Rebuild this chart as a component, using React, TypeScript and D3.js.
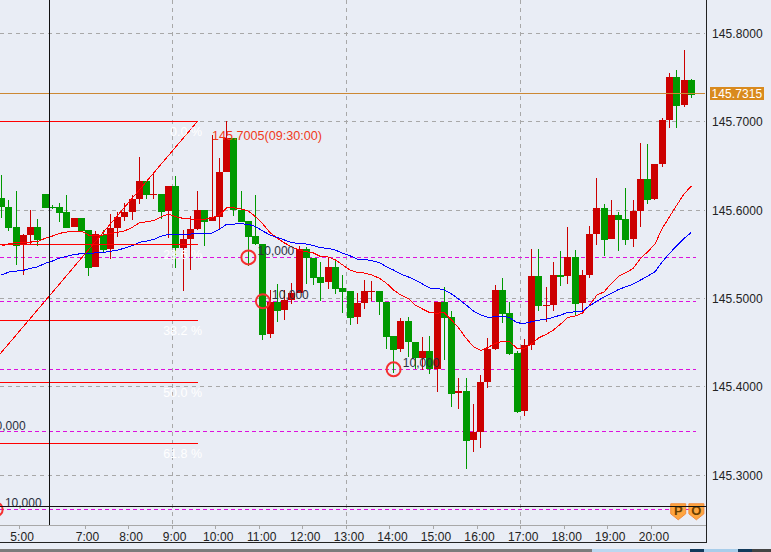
import * as d3 from "d3";
import { useEffect, useRef } from "react";

const width = 771, height = 552;

// 10 minute candles
const opens = [
  145.6132, 145.6031, 145.5807, 145.5612, 145.5717, 145.5807, 145.6181, 145.6034, 145.6031, 145.5977, 145.5807, 145.5909,
  145.5773, 145.5354, 145.5717, 145.5558, 145.5796, 145.5920, 145.5977, 145.6124, 145.6328, 145.6170, 145.6181, 145.5988,
  145.6272, 145.5569, 145.5671, 145.5785, 145.6000, 145.5875, 145.5920, 145.6430, 145.6815, 145.6000, 145.5875, 145.5705,
  145.5615, 145.4595, 145.4958, 145.4867, 145.4981, 145.5060, 145.5558, 145.5456, 145.5241, 145.5185, 145.5354, 145.5117,
  145.5083, 145.4788, 145.4947, 145.5071, 145.5083, 145.4958, 145.4573, 145.4426, 145.4743, 145.4505, 145.4324, 145.4403,
  145.4202, 145.4958, 145.4791, 145.3927, 145.3950, 145.3395, 145.3486, 145.4052, 145.4426, 145.5094, 145.4833, 145.4381,
  145.3724, 145.4471, 145.5252, 145.4913, 145.4924, 145.5264, 145.5252, 145.5468, 145.4947, 145.5264, 145.5728, 145.6022,
  145.5671, 145.5943, 145.5898, 145.5671, 145.5989, 145.6351, 145.6124, 145.6521, 145.7019, 145.7506, 145.7189, 145.7472,
];
const highs = [
  145.6396, 145.6113, 145.6215, 145.5725, 145.6000, 145.5895, 145.6181, 145.6056, 145.6076, 145.6170, 145.5909, 145.5909,
  145.5773, 145.5762, 145.5773, 145.5954, 145.5981, 145.6076, 145.6170, 145.6600, 145.6328, 145.6430, 145.6181, 145.6272,
  145.6385, 145.5773, 145.5928, 145.6215, 145.6000, 145.6849, 145.6589, 145.7008, 145.6815, 145.6215, 145.5875, 145.6170,
  145.5615, 145.5094, 145.5162, 145.5094, 145.5173, 145.5592, 145.5581, 145.5456, 145.5411, 145.5456, 145.5434, 145.5264,
  145.5083, 145.5060, 145.5207, 145.5196, 145.5083, 145.4958, 145.4573, 145.4777, 145.4788, 145.4505, 145.4562, 145.4573,
  145.4958, 145.5128, 145.4856, 145.4097, 145.4097, 145.3803, 145.4131, 145.4550, 145.5151, 145.5230, 145.4958, 145.4403,
  145.4539, 145.5558, 145.5558, 145.5128, 145.5411, 145.5536, 145.5807, 145.5547, 145.5320, 145.5819, 145.6362, 145.6068,
  145.6113, 145.5977, 145.6249, 145.6113, 145.6758, 145.6747, 145.6521, 145.7042, 145.7551, 145.7585, 145.7812, 145.7483,
];
const lows = [
  145.5906, 145.5765, 145.5377, 145.5264, 145.5603, 145.5596, 145.6026, 145.6008, 145.5864, 145.5796, 145.5807, 145.5762,
  145.5252, 145.5354, 145.5527, 145.5445, 145.5691, 145.5875, 145.5887, 145.6068, 145.6124, 145.6124, 145.5898, 145.5683,
  145.5343, 145.5082, 145.5320, 145.5773, 145.5592, 145.5875, 145.5773, 145.6430, 145.5932, 145.5864, 145.5366, 145.5603,
  145.4528, 145.4550, 145.4731, 145.4754, 145.4935, 145.5060, 145.5162, 145.5151, 145.4969, 145.5105, 145.5048, 145.4833,
  145.4697, 145.4709, 145.4879, 145.4969, 145.4811, 145.4426, 145.4154, 145.4392, 145.4335, 145.4199, 145.4188, 145.4143,
  145.3942, 145.4301, 145.3769, 145.3746, 145.3066, 145.3259, 145.3305, 145.3984, 145.4414, 145.4720, 145.4358, 145.3701,
  145.3667, 145.4414, 145.4856, 145.4731, 145.4856, 145.5139, 145.5162, 145.4811, 145.4856, 145.5230, 145.5603, 145.5479,
  145.5671, 145.5535, 145.5603, 145.5581, 145.5807, 145.6068, 145.6113, 145.6487, 145.6928, 145.6928, 145.7166, 145.7268,
];
const closes = [
  145.6026, 145.5792, 145.5596, 145.5717, 145.5807, 145.5660, 145.6026, 145.6026, 145.5966, 145.5796, 145.5909, 145.5762,
  145.5346, 145.5725, 145.5547, 145.5796, 145.5920, 145.5977, 145.6124, 145.6328, 145.6170, 145.6181, 145.5977, 145.6272,
  145.5569, 145.5671, 145.5785, 145.6000, 145.5864, 145.5920, 145.6430, 145.6815, 145.6000, 145.5864, 145.5694, 145.5615,
  145.4584, 145.4958, 145.4856, 145.4981, 145.5060, 145.5558, 145.5456, 145.5230, 145.5173, 145.5354, 145.5105, 145.5071,
  145.4777, 145.4947, 145.5083, 145.5083, 145.4958, 145.4562, 145.4414, 145.4743, 145.4505, 145.4324, 145.4403, 145.4199,
  145.4958, 145.4777, 145.3919, 145.3950, 145.3384, 145.3486, 145.4052, 145.4426, 145.5094, 145.4822, 145.4369, 145.3712,
  145.4471, 145.5252, 145.4913, 145.4924, 145.5264, 145.5241, 145.5468, 145.4935, 145.5264, 145.5728, 145.6022, 145.5660,
  145.5943, 145.5887, 145.5660, 145.5989, 145.6351, 145.6113, 145.6521, 145.7019, 145.7506, 145.7178, 145.7472, 145.7302,
];

const fastMa = [
  145.5592, 145.5618, 145.5634, 145.5634, 145.5637, 145.5645, 145.5679, 145.5705, 145.5736, 145.5751, 145.5759, 145.5762,
  145.5717, 145.5713, 145.5717, 145.5736, 145.5747, 145.5765, 145.5804, 145.5856, 145.5867, 145.5883, 145.5924, 145.5954,
  145.5924, 145.5906, 145.5898, 145.5898, 145.5895, 145.5913, 145.5943, 145.6026, 145.6026, 145.6011, 145.5989, 145.5924,
  145.5841, 145.5743, 145.5679, 145.5626, 145.5581, 145.5547, 145.5527, 145.5513, 145.5471, 145.5468, 145.5434, 145.5377,
  145.5320, 145.5294, 145.5286, 145.5264, 145.5230, 145.5173, 145.5094, 145.5037, 145.5000, 145.4924, 145.4879, 145.4837,
  145.4833, 145.4837, 145.4754, 145.4660, 145.4547, 145.4452, 145.4411, 145.4445, 145.4490, 145.4516, 145.4508, 145.4433,
  145.4433, 145.4482, 145.4554, 145.4592, 145.4641, 145.4709, 145.4785, 145.4800, 145.4833, 145.4924, 145.5037, 145.5074,
  145.5170, 145.5252, 145.5290, 145.5340, 145.5453, 145.5527, 145.5615, 145.5792, 145.5924, 145.6056, 145.6181, 145.6272,
];
const slowMa = [
  145.5264, 145.5298, 145.5309, 145.5317, 145.5340, 145.5358, 145.5396, 145.5422, 145.5456, 145.5476, 145.5498, 145.5505,
  145.5505, 145.5516, 145.5521, 145.5532, 145.5547, 145.5569, 145.5596, 145.5634, 145.5649, 145.5668, 145.5705, 145.5725,
  145.5725, 145.5720, 145.5728, 145.5736, 145.5736, 145.5739, 145.5781, 145.5838, 145.5841, 145.5845, 145.5838, 145.5813,
  145.5762, 145.5717, 145.5691, 145.5660, 145.5630, 145.5623, 145.5615, 145.5596, 145.5573, 145.5566, 145.5547, 145.5509,
  145.5482, 145.5445, 145.5441, 145.5426, 145.5407, 145.5358, 145.5320, 145.5275, 145.5244, 145.5207, 145.5162, 145.5116,
  145.5113, 145.5094, 145.5049, 145.4989, 145.4924, 145.4856, 145.4811, 145.4785, 145.4792, 145.4800, 145.4781, 145.4723,
  145.4717, 145.4735, 145.4754, 145.4762, 145.4785, 145.4811, 145.4841, 145.4848, 145.4856, 145.4916, 145.4969, 145.5018,
  145.5056, 145.5102, 145.5131, 145.5162, 145.5207, 145.5252, 145.5301, 145.5414, 145.5509, 145.5596, 145.5679, 145.5747,
];

const priceTicks = [145.3, 145.4, 145.5, 145.6, 145.7, 145.8];
const timeIndex = [3, 12, 18, 24, 30, 36, 42, 48, 54, 60, 66, 72, 78, 84, 90];
const timeLabels = ["5:00", "7:00", "8:00", "9:00", "10:00", "11:00", "12:00", "13:00", "14:00", "15:00", "16:00", "17:00", "18:00", "19:00", "20:00"];
const gridTimeIndex = [24, 48, 72];

const signalIndex = [-3, -0.8, 34, 36, 54];
const signalPrice = [145.349, 145.261, 145.5464, 145.4966, 145.4196];
const signalLabel = "10,000";

const fibPrices = [145.7005, 145.5611, 145.4751, 145.4049, 145.3358];
const fibLabels = ["0.0 %", "23.6 %", "38.2 %", "50.0 %", "61.8 %"];
const fibEndIndex = 27;
const fibStart = { index: -0.21, price: 145.4369 };

const lastPrice = 145.7315;
const cursorIndex = 6.6;
const cursorPrice = 145.264;
const markers = [{ letter: "P", index: 93.2 }, { letter: "O", index: 95.7 }];

const bg = "#e9edf5";
const upColor = "#cc0000";
const downColor = "#009900";
const fontFamily = "'Liberation Sans', Arial, sans-serif";

const App: React.FC = () => {
    const svgRef = useRef<SVGSVGElement | null>(null);

    useEffect(() => {
        const svg = d3.select(svgRef.current);
        svg.selectAll("*").remove();
        svg.style("font-family", fontFamily).style("font-size", "12px");

        const plotRight = 706, plotBottom = 525, frameBottom = 542;

        const x = d3.scaleLinear().domain([0, 95]).range([1.5, 691.3]);
        const y = d3.scaleLinear().domain([145.3, 145.8]).range([475, 33.4]);
        const barWidth = 7;
        const crisp = (v: number) => Math.floor(v) + 0.5;
        const tickX = (i: number) => x(i) - 3.6;

        svg.append("rect").attr("width", width).attr("height", height).attr("fill", bg);

        const hLine = (py: number, x1: number, x2: number, color: string, dash?: string) =>
            svg.append("line")
                .attr("x1", x1).attr("x2", x2)
                .attr("y1", crisp(py)).attr("y2", crisp(py))
                .attr("stroke", color)
                .attr("stroke-dasharray", dash ?? null)
                .attr("shape-rendering", "crispEdges");

        // grid
        priceTicks.forEach(t => hLine(y(t), 0, plotRight - 1, "#a8a8a8", "4 4"));
        gridTimeIndex.forEach(i => {
            svg.append("line")
                .attr("x1", crisp(tickX(i))).attr("x2", crisp(tickX(i)))
                .attr("y1", 0).attr("y2", plotBottom)
                .attr("stroke", "#a8a8a8")
                .attr("stroke-dasharray", "4 4")
                .attr("shape-rendering", "crispEdges");
        });

        // signal levels
        signalPrice.forEach(p => hLine(y(p), 0, x(95) + 5, "#dd11dd", "4 3"));

        // candles
        const candles = d3.range(opens.length).map(i => ({ i, o: opens[i], h: highs[i], l: lows[i], c: closes[i] }));
        const candle = svg.append("g").attr("shape-rendering", "crispEdges")
            .selectAll("g").data(candles).join("g");
        candle.append("line")
            .attr("x1", d => Math.round(x(d.i) - barWidth / 2) + 3.5)
            .attr("x2", d => Math.round(x(d.i) - barWidth / 2) + 3.5)
            .attr("y1", d => y(d.h))
            .attr("y2", d => y(d.l))
            .attr("stroke", d => d.c >= d.o ? upColor : downColor);
        candle.append("rect")
            .attr("x", d => Math.round(x(d.i) - barWidth / 2))
            .attr("width", barWidth)
            .attr("y", d => Math.round(y(Math.max(d.o, d.c))))
            .attr("height", d => Math.max(1, Math.round(Math.abs(y(d.o) - y(d.c)))))
            .attr("fill", d => d.c >= d.o ? upColor : downColor);

        // moving averages
        const maLine = d3.line<number>().x((_, i) => x(i)).y(d => y(d));
        svg.append("path").attr("d", maLine(fastMa)).attr("fill", "none").attr("stroke", "#ff0000")
            .attr("shape-rendering", "crispEdges");
        svg.append("path").attr("d", maLine(slowMa)).attr("fill", "none").attr("stroke", "#0000ff")
            .attr("shape-rendering", "crispEdges");

        // last price
        hLine(y(lastPrice), 0, plotRight - 1, "#cc8833");

        // retracement tool
        fibPrices.forEach(p => hLine(y(p), 0, x(fibEndIndex), "#ff0000"));
        svg.append("line")
            .attr("x1", x(fibStart.index)).attr("y1", y(fibStart.price))
            .attr("x2", x(fibEndIndex)).attr("y2", y(fibPrices[0]))
            .attr("stroke", "#ff0000")
            .attr("shape-rendering", "crispEdges");
        svg.append("g").selectAll("text").data(fibLabels).join("text")
            .attr("x", x(fibEndIndex) + 4.5)
            .attr("y", (_, i) => y(fibPrices[i]) + 14.5)
            .attr("text-anchor", "end")
            .attr("fill", "#ffffff")
            .style("font-size", "12.5px")
            .text(d => d);

        svg.append("text")
            .attr("x", x(29))
            .attr("y", y(fibPrices[0]) + 18.7)
            .attr("fill", "#f03a1a")
            .style("font-size", "12.6px")
            .text(`${fibPrices[0].toFixed(4)}(09:30:00)`);

        // crosshair
        svg.append("line")
            .attr("x1", crisp(x(cursorIndex))).attr("x2", crisp(x(cursorIndex)))
            .attr("y1", 0).attr("y2", plotBottom)
            .attr("stroke", "#111111")
            .attr("shape-rendering", "crispEdges");

        // signal circles and volume labels
        signalPrice.forEach((p, i) => {
            svg.append("circle")
                .attr("cx", x(signalIndex[i])).attr("cy", y(p)).attr("r", 7)
                .attr("fill", "none").attr("stroke", "#f53030").attr("stroke-width", 2);
            svg.append("text")
                .attr("x", x(signalIndex[i]) + 9.2)
                .attr("y", y(p) - 2)
                .attr("fill", "#2a3040")
                .text(signalLabel);
        });

        // order markers
        markers.forEach(m => {
            const mx = x(m.index);
            const top = y(cursorPrice) - 3;
            svg.append("path")
                .attr("d", `M${mx - 7.5},${top} H${mx + 7.5} V${top + 10} L${mx},${top + 16} L${mx - 7.5},${top + 10} Z`)
                .attr("fill", "#ffa640")
                .attr("stroke", "#f28a3c");
            svg.append("text")
                .attr("x", mx).attr("y", top + 11.5)
                .attr("text-anchor", "middle")
                .attr("fill", "#6b4000")
                .style("font-weight", "bold")
                .style("font-size", "13px")
                .text(m.letter);
        });
        hLine(y(cursorPrice), 0, plotRight, "#111111");

        // time axis
        hLine(plotBottom, 0, plotRight, "#a8a8a8");
        timeIndex.forEach((t, i) => {
            svg.append("line")
                .attr("x1", crisp(tickX(t))).attr("x2", crisp(tickX(t)))
                .attr("y1", plotBottom).attr("y2", plotBottom + 4)
                .attr("stroke", "#a8a8a8")
                .attr("shape-rendering", "crispEdges");
            svg.append("text")
                .attr("x", tickX(t) + 2.5)
                .attr("y", 540.5)
                .attr("text-anchor", "middle")
                .attr("fill", "#222222")
                .style("letter-spacing", "0.1px")
                .text(timeLabels[i]);
        });

        // price axis
        svg.append("g").selectAll("text").data(priceTicks).join("text")
            .attr("x", 712)
            .attr("y", d => y(d) + 4.6)
            .attr("fill", "#222222")
            .style("letter-spacing", "0.1px")
            .text(d => d.toFixed(4));

        svg.append("rect")
            .attr("x", 710).attr("y", Math.round(y(lastPrice)) - 7)
            .attr("width", 54).attr("height", 13)
            .attr("fill", "#d98a1e");
        svg.append("text")
            .attr("x", 711.5).attr("y", y(lastPrice) + 4)
            .attr("fill", "#ffffff")
            .style("letter-spacing", "0.1px")
            .text(lastPrice.toFixed(4));

        // frame
        hLine(frameBottom, 0, plotRight + 1, "#222222");
        svg.append("line")
            .attr("x1", plotRight + 0.5).attr("x2", plotRight + 0.5)
            .attr("y1", 0).attr("y2", frameBottom)
            .attr("stroke", "#222222")
            .attr("stroke-width", 1)
            .attr("shape-rendering", "crispEdges");

        // window strip under the chart
        const strip = [
            { from: 0, to: 592, color: "#7c7c7c" },
            { from: 592, to: 690, color: "#bcd8f0" },
            { from: 690, to: 704, color: "#123a5c" },
            { from: 704, to: 738, color: "#a8cdea" },
            { from: 738, to: 752, color: "#123a5c" },
            { from: 752, to: 771, color: "#444444" },
        ];
        svg.append("g").selectAll("rect").data(strip).join("rect")
            .attr("x", d => d.from).attr("y", 549)
            .attr("width", d => d.to - d.from).attr("height", 3)
            .attr("fill", d => d.color);
    }, []);

    return (
        <svg
            ref={svgRef}
            width={width}
            height={height}
            style={{ position: "fixed", left: 0, top: 0, display: "block" }}
        />
    );
};

export default App;
